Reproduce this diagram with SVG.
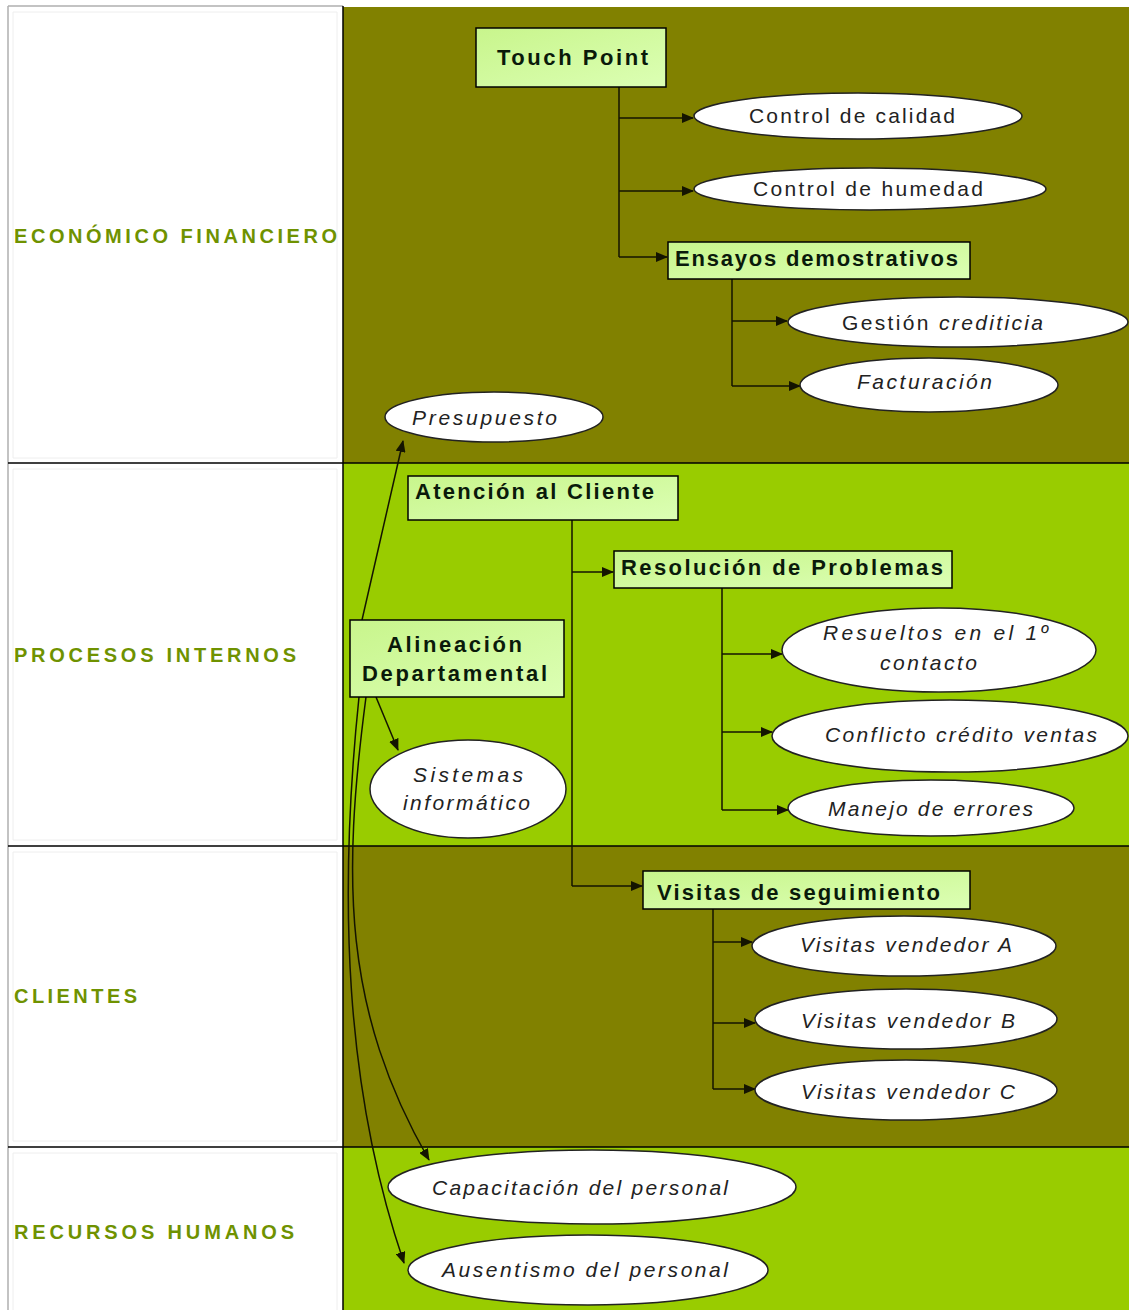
<svg xmlns="http://www.w3.org/2000/svg" width="1129" height="1310" viewBox="0 0 1129 1310">
  <defs>
    <linearGradient id="boxFill" x1="0" y1="0" x2="1" y2="1">
      <stop offset="0" stop-color="#c8f58c"/>
      <stop offset="1" stop-color="#dcffb4"/>
    </linearGradient>
    <marker id="arrow" markerWidth="12" markerHeight="10" refX="11" refY="5" orient="auto" markerUnits="userSpaceOnUse">
      <path d="M0,0 L12,5 L0,10 z" fill="#141400"/>
    </marker>
    <style>
      .band-dark { fill: #818100; }
      .band-light { fill: #99cc00; }
      .grid { stroke: #000; stroke-width: 1.5; fill: none; }
      .lane { font-family: "Liberation Sans", Arial, sans-serif; font-weight: bold; font-size: 20px; fill: #6f9200; }
      .box rect { fill: url(#boxFill); stroke: #000; stroke-width: 1.5; }
      .box text { font-family: "Liberation Sans", Arial, sans-serif; font-weight: bold; font-size: 22px; fill: #0a1a0a; }
      .oval ellipse { fill: #fff; stroke: #222; stroke-width: 1.5; }
      .oval text { font-family: "Liberation Sans", Arial, sans-serif; font-size: 21px; fill: #222; }
      .it { font-style: italic; }
      .conn path { stroke: #141400; stroke-width: 1.5; fill: none; }
      .conn .arr { marker-end: url(#arrow); }
    </style>
  </defs>

  <!-- page and swimlane bands -->
  <rect x="0" y="0" width="1129" height="1310" fill="#fff"/>
  <rect class="band-dark" x="343" y="7" width="786" height="456"/>
  <rect class="band-light" x="343" y="463" width="786" height="383"/>
  <rect class="band-dark" x="343" y="846" width="786" height="301"/>
  <rect class="band-light" x="343" y="1147" width="786" height="163"/>

  <!-- table lines -->
  <path d="M8 6 H343 M8 6 V1310" stroke="#b0b0b0" stroke-width="1.5" fill="none"/>
  <path d="M13 12 H337 V458 M13 12 V458 H337 M13 469 V840 H337 V469 H13 M13 852 V1141 H337 V852 H13 M13 1153 V1310 M337 1153 V1310 M13 1153 H337" stroke="#eeeeee" stroke-width="1" fill="none"/>
  <path class="grid" d="M343 6 V1310 M8 463 H1129 M8 846 H1129 M8 1147 H1129"/>

  <!-- lane titles -->
  <text class="lane" x="14" y="243" textLength="323" lengthAdjust="spacing">ECONÓMICO FINANCIERO</text>
  <text class="lane" x="14" y="662" textLength="282" lengthAdjust="spacing">PROCESOS INTERNOS</text>
  <text class="lane" x="14" y="1003" textLength="123" lengthAdjust="spacing">CLIENTES</text>
  <text class="lane" x="14" y="1239" textLength="280" lengthAdjust="spacing">RECURSOS HUMANOS</text>

  <!-- connectors -->
  <g id="connectors" class="conn">
    <path d="M619 87 V257"/>
    <path class="arr" d="M619 118 H693"/>
    <path class="arr" d="M619 191 H693"/>
    <path class="arr" d="M619 257 H667"/>

    <path d="M732 279 V386"/>
    <path class="arr" d="M732 321 H787"/>
    <path class="arr" d="M732 386 H800"/>

    <path d="M572 520 V886"/>
    <path class="arr" d="M572 572 H613"/>
    <path class="arr" d="M572 886 H642"/>

    <path d="M722 588 V810"/>
    <path class="arr" d="M722 654 H782"/>
    <path class="arr" d="M722 732 H772"/>
    <path class="arr" d="M722 810 H788"/>

    <path d="M713 909 V1089"/>
    <path class="arr" d="M713 942 H752"/>
    <path class="arr" d="M713 1023 H755"/>
    <path class="arr" d="M713 1089 H755"/>

    <path class="arr" d="M362 620 L403 441"/>
    <path class="arr" d="M376 697 L398 750"/>
    <path class="arr" d="M366 697 C 342 880, 343 1010, 429 1160"/>
    <path class="arr" d="M359 697 C 338 900, 345 1090, 404 1263"/>
  </g>

  <!-- rectangular nodes -->
  <g id="touch-point" class="box">
    <rect x="476" y="28" width="190" height="59"/>
    <text x="497" y="65" textLength="151" lengthAdjust="spacing" font-size="23">Touch Point</text>
  </g>
  <g id="ensayos" class="box">
    <rect x="668" y="242" width="302" height="37"/>
    <text x="675" y="266" textLength="283" lengthAdjust="spacing">Ensayos demostrativos</text>
  </g>
  <g id="atencion" class="box">
    <rect x="408" y="476" width="270" height="44"/>
    <text x="415" y="499" textLength="239" lengthAdjust="spacing">Atención al Cliente</text>
  </g>
  <g id="resolucion" class="box">
    <rect x="614" y="551" width="338" height="37"/>
    <text x="621" y="575" textLength="322" lengthAdjust="spacing">Resolución de Problemas</text>
  </g>
  <g id="alineacion" class="box">
    <rect x="350" y="620" width="214" height="77"/>
    <text x="387" y="652" textLength="135" lengthAdjust="spacing">Alineación</text>
    <text x="362" y="681" textLength="185" lengthAdjust="spacing">Departamental</text>
  </g>
  <g id="visitas-seguimiento" class="box">
    <rect x="643" y="871" width="327" height="38"/>
    <text x="657" y="900" textLength="283" lengthAdjust="spacing">Visitas de seguimiento</text>
  </g>

  <!-- oval nodes -->
  <g id="control-calidad" class="oval">
    <ellipse cx="858" cy="116" rx="164" ry="23"/>
    <text x="749" y="123" textLength="206" lengthAdjust="spacing">Control de calidad</text>
  </g>
  <g id="control-humedad" class="oval">
    <ellipse cx="870" cy="189" rx="176" ry="21"/>
    <text x="753" y="196" textLength="230" lengthAdjust="spacing">Control de humedad</text>
  </g>
  <g id="gestion-crediticia" class="oval">
    <ellipse cx="958" cy="322" rx="170" ry="25"/>
    <text x="842" y="330" textLength="201" lengthAdjust="spacing">Gestión <tspan class="it">crediticia</tspan></text>
  </g>
  <g id="facturacion" class="oval">
    <ellipse cx="929" cy="385" rx="129" ry="27"/>
    <text class="it" x="857" y="389" textLength="135" lengthAdjust="spacing">Facturación</text>
  </g>
  <g id="presupuesto" class="oval">
    <ellipse cx="494" cy="417" rx="109" ry="25"/>
    <text class="it" x="412" y="425" textLength="145" lengthAdjust="spacing">Presupuesto</text>
  </g>
  <g id="sistemas" class="oval">
    <ellipse cx="468" cy="789" rx="98" ry="49"/>
    <text class="it" x="413" y="782" textLength="110" lengthAdjust="spacing">Sistemas</text>
    <text class="it" x="403" y="810" textLength="127" lengthAdjust="spacing">informático</text>
  </g>
  <g id="resueltos" class="oval">
    <ellipse cx="939" cy="650" rx="157" ry="42"/>
    <text class="it" x="823" y="640" textLength="225" lengthAdjust="spacing">Resueltos en el 1º</text>
    <text class="it" x="880" y="670" textLength="97" lengthAdjust="spacing">contacto</text>
  </g>
  <g id="conflicto" class="oval">
    <ellipse cx="950" cy="736" rx="178" ry="36"/>
    <text class="it" x="825" y="742" textLength="272" lengthAdjust="spacing">Conflicto crédito ventas</text>
  </g>
  <g id="manejo-errores" class="oval">
    <ellipse cx="931" cy="808" rx="143" ry="28"/>
    <text class="it" x="828" y="816" textLength="205" lengthAdjust="spacing">Manejo de errores</text>
  </g>
  <g id="vendedor-a" class="oval">
    <ellipse cx="904" cy="946" rx="152" ry="30"/>
    <text class="it" x="800" y="952" textLength="212" lengthAdjust="spacing">Visitas vendedor A</text>
  </g>
  <g id="vendedor-b" class="oval">
    <ellipse cx="906" cy="1019" rx="151" ry="30"/>
    <text class="it" x="801" y="1028" textLength="214" lengthAdjust="spacing">Visitas vendedor B</text>
  </g>
  <g id="vendedor-c" class="oval">
    <ellipse cx="906" cy="1090" rx="151" ry="30"/>
    <text class="it" x="801" y="1099" textLength="214" lengthAdjust="spacing">Visitas vendedor C</text>
  </g>
  <g id="capacitacion" class="oval">
    <ellipse cx="592" cy="1187" rx="204" ry="37"/>
    <text class="it" x="432" y="1195" textLength="296" lengthAdjust="spacing">Capacitación del personal</text>
  </g>
  <g id="ausentismo" class="oval">
    <ellipse cx="588" cy="1270" rx="180" ry="35"/>
    <text class="it" x="442" y="1277" textLength="286" lengthAdjust="spacing">Ausentismo del personal</text>
  </g>
</svg>
